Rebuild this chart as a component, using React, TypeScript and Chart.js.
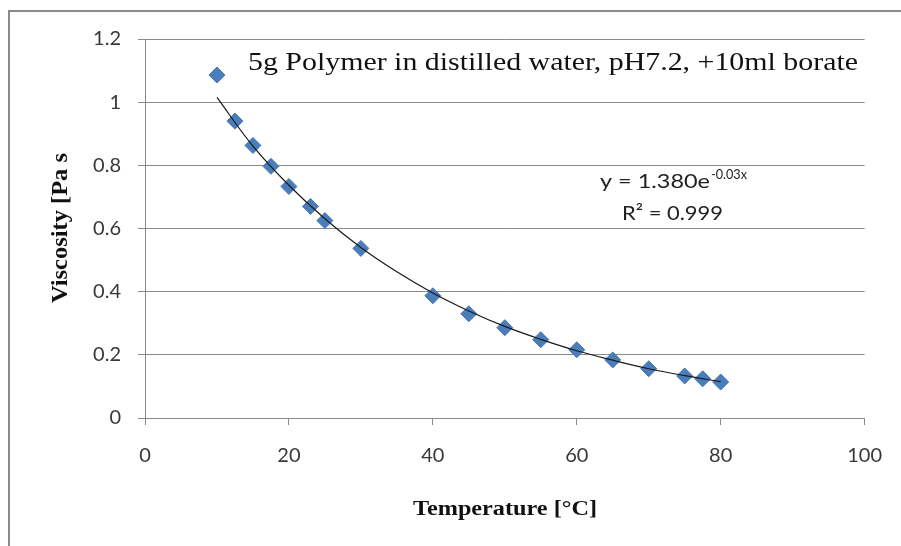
import { useEffect, useRef } from 'react';
import { Chart, registerables } from 'chart.js';

Chart.register(...registerables);

const temperatures = [10, 12.5, 15, 17.5, 20, 23, 25, 30, 40, 45, 50, 55, 60, 65, 70, 75, 77.5, 80];
const viscosities = [1.086, 0.94, 0.863, 0.797, 0.733, 0.67, 0.625, 0.537, 0.387, 0.33, 0.286, 0.248, 0.216, 0.184, 0.156, 0.133, 0.124, 0.114];

const trendTemps = [10, 15, 20, 25, 30, 35, 40, 45, 50, 55, 60, 65, 70, 75, 80];
const trendValues = [1.015, 0.861, 0.737, 0.631, 0.54, 0.463, 0.396, 0.339, 0.29, 0.249, 0.213, 0.183, 0.156, 0.134, 0.115];

const xTickValues = [0, 20, 40, 60, 80, 100];
const yTickValues = [0, 0.2, 0.4, 0.6, 0.8, 1, 1.2];

const chartTitle = '5g Polymer in distilled water, pH7.2, +10ml borate';
const xAxisTitle = 'Temperature [°C]';
const yAxisTitle = 'Viscosity [Pa s';
const equationMain = 'y = 1.380e';
const equationExp = '-0.03x';
const rSquared = 'R² = 0.999';

const SANS = 'Lato, "Open Sans", sans-serif';
const SERIF = '"Liberation Serif", "DejaVu Serif", serif';

// draw text starting at x (left) stretched horizontally to a given width
function fillStretched(ctx: CanvasRenderingContext2D, text: string, x: number, y: number, width: number) {
  const natural = ctx.measureText(text).width;
  const sx = width / natural;
  ctx.save();
  ctx.translate(x, y);
  ctx.scale(sx, 1);
  ctx.textAlign = 'left';
  ctx.fillText(text, 0, 0);
  ctx.restore();
}

const textPlugin = {
  id: 'extraText',
  afterDraw(chart: any) {
    const ctx = chart.ctx as CanvasRenderingContext2D;
    ctx.save();
    // outer frame
    ctx.strokeStyle = '#8a8a8a';
    ctx.lineWidth = 2;
    ctx.beginPath();
    ctx.moveTo(9, 546);
    ctx.lineTo(9, 11);
    ctx.lineTo(901, 11);
    ctx.stroke();

    ctx.textBaseline = 'alphabetic';

    // title
    ctx.fillStyle = '#111';
    ctx.font = `25px ${SERIF}`;
    fillStretched(ctx, chartTitle, 248, 70, 610);

    // equation
    ctx.fillStyle = '#222';
    ctx.font = `20px ${SANS}`;
    fillStretched(ctx, equationMain, 600, 188, 110);
    ctx.font = `13px ${SANS}`;
    fillStretched(ctx, equationExp, 711, 179, 36);
    ctx.font = `20px ${SANS}`;
    fillStretched(ctx, rSquared, 622, 220, 101);

    // x axis title
    ctx.fillStyle = '#111';
    ctx.font = `bold 22px ${SERIF}`;
    fillStretched(ctx, xAxisTitle, 413, 515, 184);

    // y axis title
    ctx.save();
    ctx.translate(67, 303);
    ctx.rotate(-Math.PI / 2);
    ctx.font = `bold 23px ${SERIF}`;
    fillStretched(ctx, yAxisTitle, 0, 0, 150);
    ctx.restore();

    ctx.restore();
  },
};

export default function App() {
  const ref = useRef<HTMLCanvasElement | null>(null);

  useEffect(() => {
    document.body.style.margin = '0';
    const canvas = ref.current;
    if (!canvas) return;
    const chart = new Chart(canvas, {
      type: 'scatter',
      data: {
        datasets: [
          {
            type: 'line',
            label: 'Trend',
            data: trendTemps.map((t, i) => ({ x: t, y: trendValues[i] })),
            borderColor: '#1a1a1a',
            borderWidth: 1.2,
            pointRadius: 0,
            tension: 0.4,
            fill: false,
          } as any,
          {
            label: 'Viscosity',
            data: temperatures.map((t, i) => ({ x: t, y: viscosities[i] })),
            pointStyle: 'rectRot',
            pointRadius: 8,
            backgroundColor: '#4a7ebb',
            borderColor: '#4577b3',
            borderWidth: 1,
          },
        ],
      },
      options: {
        responsive: false,
        animation: false,
        devicePixelRatio: 1,
        layout: { padding: { left: 0, top: 39, right: 35, bottom: 0 } },
        plugins: { legend: { display: false }, tooltip: { enabled: false } },
        scales: {
          x: {
            type: 'linear',
            min: 0,
            max: 100,
            afterFit(scale: any) {
              scale.height = 128;
            },
            afterBuildTicks(scale: any) {
              scale.ticks = xTickValues.map((v) => ({ value: v }));
            },
            grid: {
              drawOnChartArea: false,
              drawTicks: true,
              tickLength: 7,
              color: '#8a8a8a',
            },
            border: { display: true, color: '#8a8a8a', width: 1 },
            ticks: {
              padding: 19,
              color: '#383838',
              font: { family: SANS, size: 20 },
              maxRotation: 0,
              callback: (v: any) => String(v),
            },
          },
          y: {
            type: 'linear',
            min: 0,
            max: 1.2,
            afterFit(scale: any) {
              scale.width = 145;
            },
            afterBuildTicks(scale: any) {
              scale.ticks = yTickValues.map((v) => ({ value: v }));
            },
            grid: {
              drawOnChartArea: true,
              drawTicks: true,
              tickLength: 7,
              color: '#8a8a8a',
            },
            border: { display: true, color: '#8a8a8a', width: 1 },
            ticks: {
              padding: 17,
              color: '#383838',
              font: { family: SANS, size: 20 },
              callback: (v: any) => String(Number(Number(v).toFixed(1))),
            },
          },
        },
      },
      plugins: [textPlugin],
    });
    return () => chart.destroy();
  }, []);

  return (
    <div style={{ position: 'fixed', left: 0, top: 0, width: 901, height: 546, background: '#fff' }}>
      <canvas ref={ref} width={901} height={546} />
    </div>
  );
}
